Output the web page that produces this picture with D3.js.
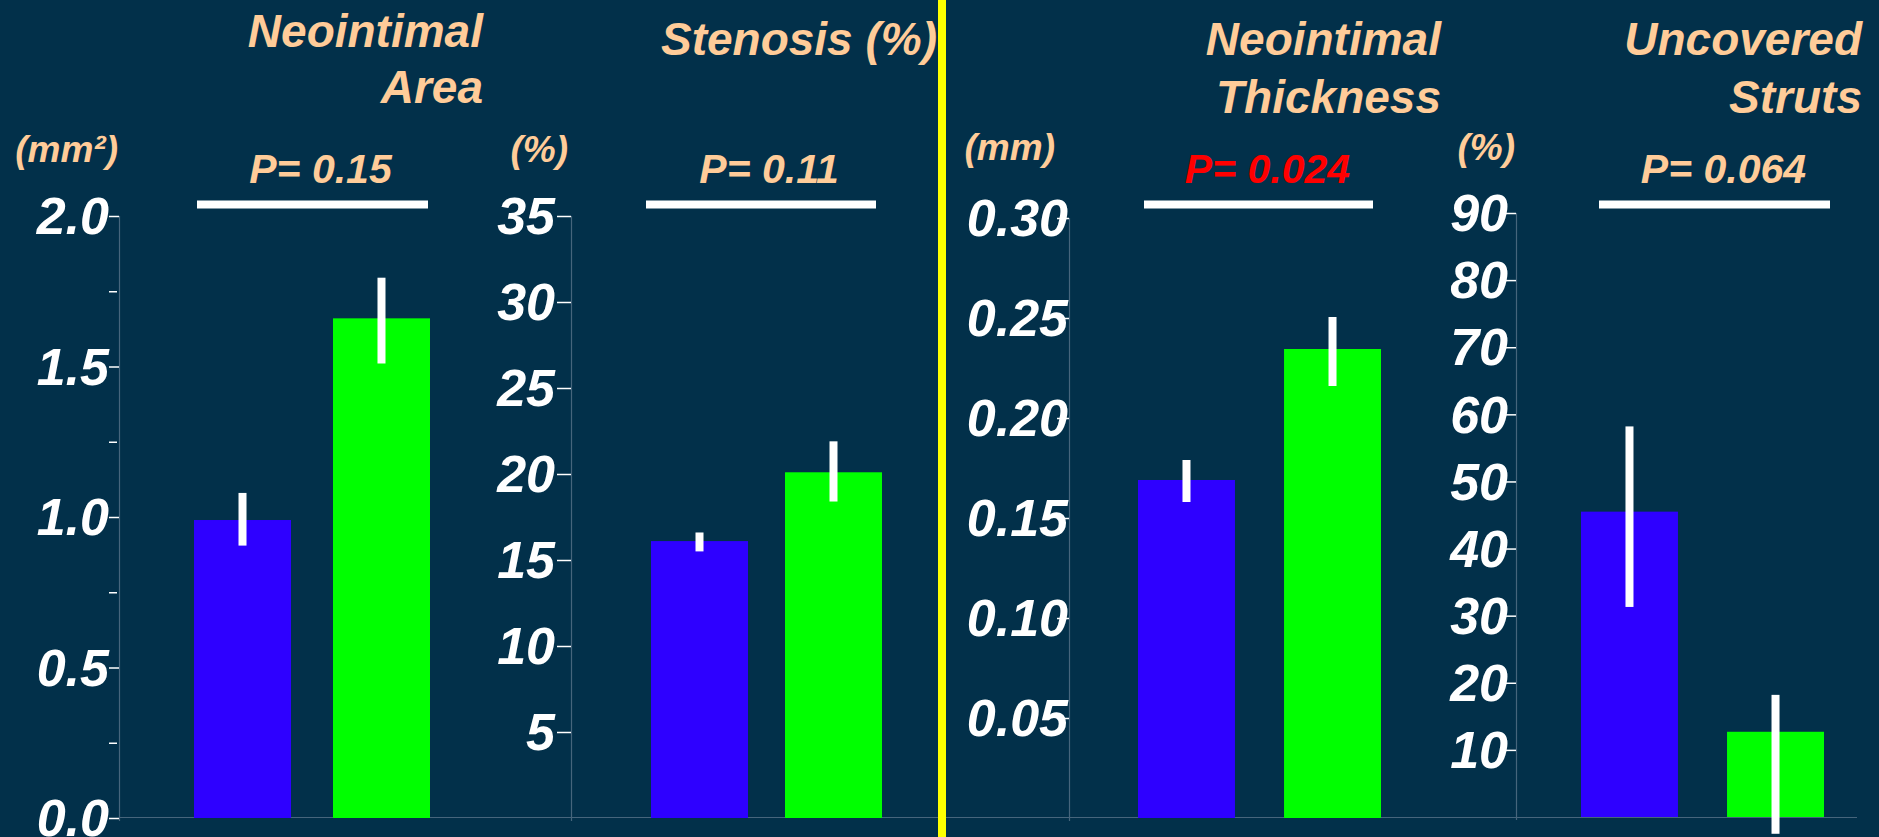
<!DOCTYPE html>
<html>
<head>
<meta charset="utf-8">
<script src="https://cdn.jsdelivr.net/npm/d3@7"></script>
<style>
  html, body { margin: 0; padding: 0; background: #02304a; }
  svg { display: block; }
  text { font-family: "Liberation Sans", Arial, sans-serif; font-weight: bold; font-style: italic; }
</style>
</head>
<body>
<svg id="chart" width="1879" height="837"></svg>
<script>
// ---------------- DATA ----------------
const groups = ["Group A", "Group B"];
const groupColors = ["#2e00ff", "#00ff00"];

const panelTitles = [["Neointimal", "Area"], ["Stenosis (%)"], ["Neointimal", "Thickness"], ["Uncovered", "Struts"]];
const unitLabels = ["(mm²)", "(%)", "(mm)", "(%)"];
const pLabels = ["P= 0.15", "P= 0.11", "P= 0.024", "P= 0.064"];
const pColors = ["#ffcc99", "#ffcc99", "#ff0000", "#ffcc99"];

// Neointimal area (mm²)
const areaMean = [0.99, 1.66];
const areaLow  = [0.905, 1.51];
const areaHigh = [1.08, 1.795];
// Stenosis (%)
const stenosisMean = [16.1, 20.1];
const stenosisLow  = [15.5, 18.4];
const stenosisHigh = [16.6, 21.9];
// Neointimal thickness (mm)
const thicknessMean = [0.169, 0.2345];
const thicknessLow  = [0.158, 0.216];
const thicknessHigh = [0.179, 0.2505];
// Uncovered struts (%)
const strutsMean = [45.5, 12.7];
const strutsLow  = [31.3, -2.5];
const strutsHigh = [58.2, 18.2];

// Tick labels
const areaTicks = [0, 0.5, 1.0, 1.5, 2.0];
const areaMinorTicks = [0.25, 0.75, 1.25, 1.75];
const stenosisTicks = [5, 10, 15, 20, 25, 30, 35];
const thicknessTicks = [0.05, 0.10, 0.15, 0.20, 0.25, 0.30];
const strutsTicks = [10, 20, 30, 40, 50, 60, 70, 80, 90];

// ---------------- LAYOUT ----------------
const W = 1879, H = 837;
const panels = [
  { mean: areaMean, low: areaLow, high: areaHigh, ticks: areaTicks, minor: areaMinorTicks, fmt: d3.format(".1f"), max: 2.0,
    axisX: 119, y0: 818, y1: 216, band: [194, 430], pad: 0.302, tickSize: 10, tickPad: 0,
    titleX: 483, titleY: [47, 103], unitX: 118, unitY: 162, pLine: [3, -2], pText: 8 },
  { mean: stenosisMean, low: stenosisLow, high: stenosisHigh, ticks: stenosisTicks, minor: [], fmt: d3.format("d"), max: 35,
    axisX: 571, y0: 818, y1: 216, band: [651, 882], pad: 0.276, tickSize: 14, tickPad: 2,
    titleX: 937, titleY: [55], unitX: 568, unitY: 162, pLine: [-5, -6], pText: 8 },
  { mean: thicknessMean, low: thicknessLow, high: thicknessHigh, ticks: thicknessTicks, minor: [], fmt: d3.format(".2f"), max: 0.30,
    axisX: 1069, y0: 818, y1: 218, band: [1138, 1381], pad: 0.336, tickSize: 12, tickPad: -11,
    titleX: 1441, titleY: [55, 113], unitX: 1055, unitY: 160, pLine: [6, -8], pText: 9 },
  { mean: strutsMean, low: strutsLow, high: strutsHigh, ticks: strutsTicks, minor: [], fmt: d3.format("d"), max: 90,
    axisX: 1516, y0: 817, y1: 213, band: [1581, 1824], pad: 0.336, tickSize: 16, tickPad: -8,
    titleX: 1862, titleY: [55, 113], unitX: 1515, unitY: 160, pLine: [18, 6], pText: 9 }
];

const svg = d3.select("#chart");
svg.append("rect").attr("width", W).attr("height", H).attr("fill", "#02304a");

const axisColor = "#46657c";

// common baseline
svg.append("line")
  .attr("x1", panels[0].axisX).attr("x2", 1857)
  .attr("y1", 817.5).attr("y2", 817.5)
  .attr("stroke", axisColor).attr("stroke-width", 1.2);

panels.forEach((p, i) => {
  const g = svg.append("g");
  const y = d3.scaleLinear().domain([0, p.max]).range([p.y0, p.y1]);
  const x = d3.scaleBand().domain(groups).range(p.band).paddingInner(p.pad).paddingOuter(0);

  // vertical axis line
  g.append("line")
    .attr("x1", p.axisX + 0.5).attr("x2", p.axisX + 0.5)
    .attr("y1", y(p.max)).attr("y2", p.y0 + 3)
    .attr("stroke", axisColor).attr("stroke-width", 1.2);

  // minor ticks
  if (p.minor.length) {
    const mAxis = d3.axisLeft(y).tickValues(p.minor).tickFormat("").tickSize(8).tickPadding(0);
    const mg = g.append("g").attr("transform", `translate(${p.axisX - 2},0)`).call(mAxis);
    mg.select(".domain").remove();
    mg.selectAll(".tick line").attr("stroke", "#ffffff").attr("stroke-width", 1.5);
  }

  // major ticks + labels
  const axis = d3.axisLeft(y).tickValues(p.ticks).tickFormat(p.fmt).tickSize(p.tickSize).tickPadding(p.tickPad);
  const ag = g.append("g").attr("transform", `translate(${p.axisX},0)`).call(axis);
  ag.select(".domain").remove();
  ag.selectAll(".tick line").attr("stroke", "#ffffff").attr("stroke-width", 1.5);
  ag.selectAll(".tick text")
    .attr("fill", "#ffffff")
    .style("font-family", '"Liberation Sans", Arial, sans-serif')
    .style("font-weight", "bold").style("font-style", "italic")
    .style("font-size", "52px")
    .attr("dy", "0.34em");

  // bars
  g.selectAll("rect.bar").data(groups).enter().append("rect")
    .attr("class", "bar")
    .attr("x", d => x(d))
    .attr("width", x.bandwidth())
    .attr("y", (d, j) => y(p.mean[j]))
    .attr("height", (d, j) => y(0) - y(p.mean[j]))
    .attr("fill", (d, j) => groupColors[j]);

  // error bars
  g.selectAll("rect.err").data(groups).enter().append("rect")
    .attr("class", "err")
    .attr("x", d => x(d) + x.bandwidth() / 2 - 4)
    .attr("width", 8)
    .attr("y", (d, j) => y(p.high[j]))
    .attr("height", (d, j) => y(p.low[j]) - y(p.high[j]))
    .attr("fill", "#ffffff");

  // P bracket line
  const lx1 = x(groups[0]) + p.pLine[0];
  const lx2 = x(groups[1]) + x.bandwidth() + p.pLine[1];
  g.append("rect")
    .attr("x", lx1).attr("y", 200.5)
    .attr("width", lx2 - lx1).attr("height", 8)
    .attr("fill", "#ffffff");

  // P text
  g.append("text")
    .attr("x", (lx1 + lx2) / 2 + p.pText).attr("y", 183)
    .attr("text-anchor", "middle")
    .attr("fill", pColors[i])
    .style("font-size", "41px")
    .text(pLabels[i]);

  // unit label
  g.append("text")
    .attr("x", p.unitX).attr("y", p.unitY)
    .attr("text-anchor", "end")
    .attr("fill", "#ffcc99")
    .style("font-size", "37px")
    .text(unitLabels[i]);

  // title
  panelTitles[i].forEach((t, k) => {
    g.append("text")
      .attr("x", p.titleX).attr("y", p.titleY[k])
      .attr("text-anchor", "end")
      .attr("fill", "#ffcc99")
      .style("font-size", "46px")
      .text(t);
  });
});

// yellow divider
svg.append("rect")
  .attr("x", 938).attr("y", 0)
  .attr("width", 8).attr("height", H)
  .attr("fill", "#ffff00");
</script>
</body>
</html>
